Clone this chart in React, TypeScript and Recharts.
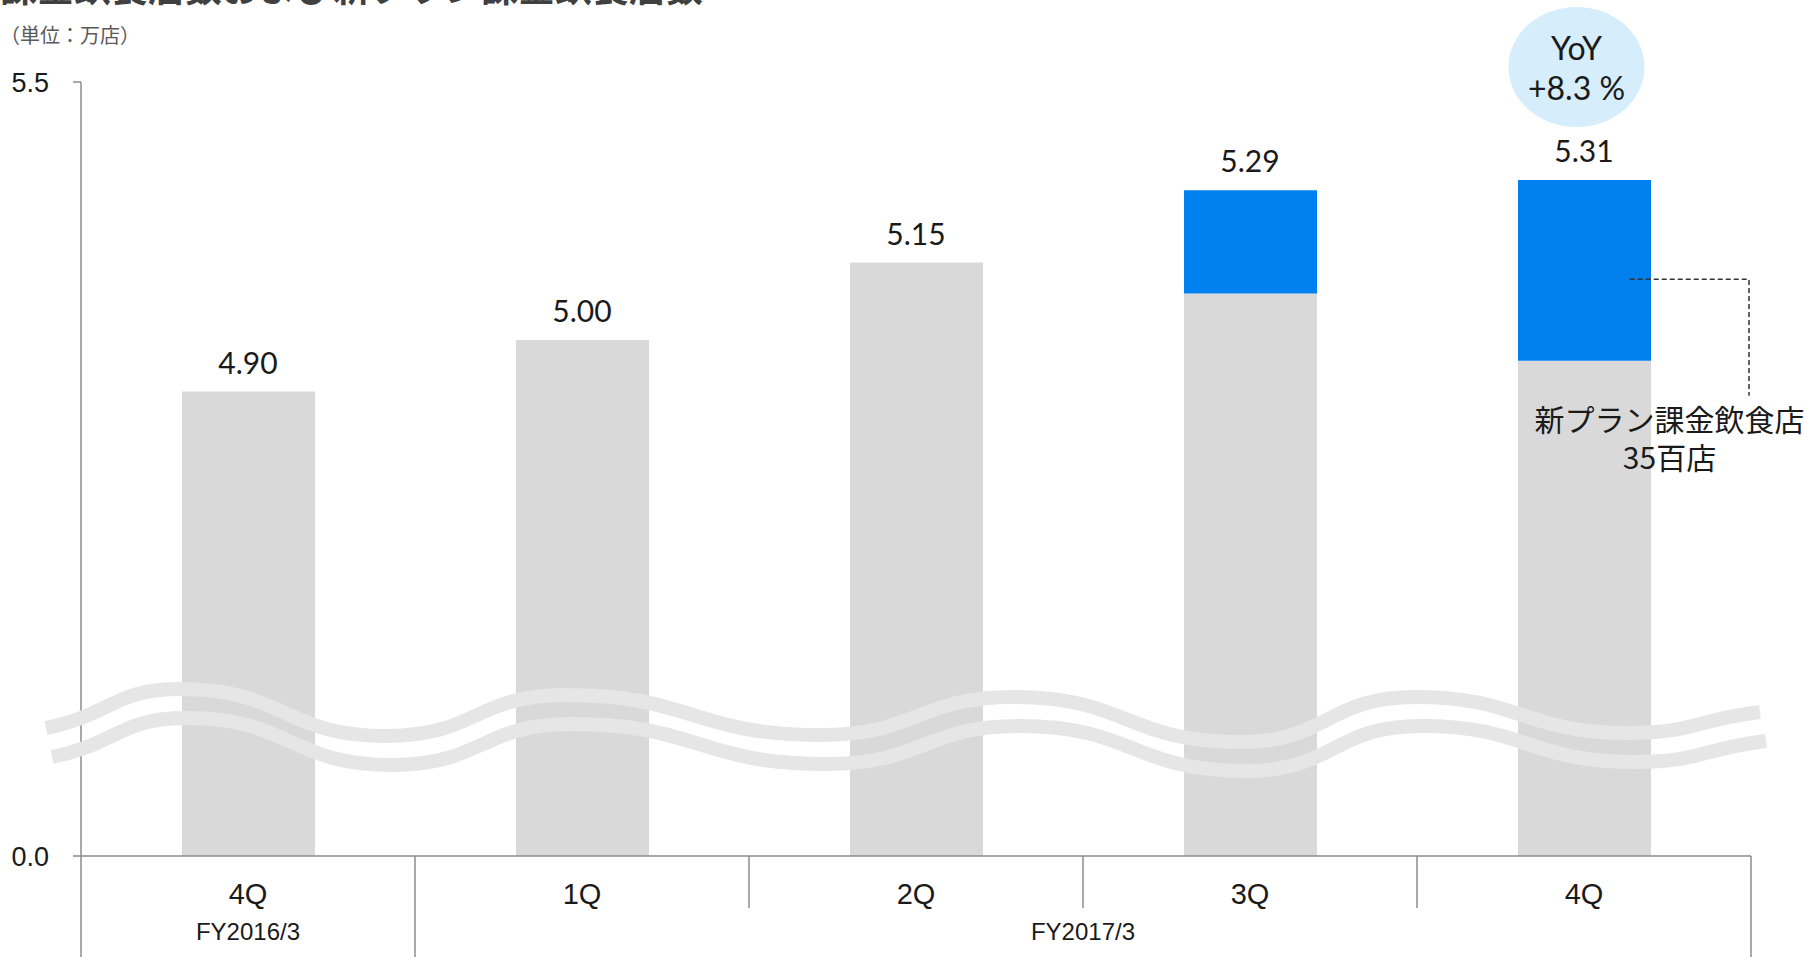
import React from 'react';
import {
  ComposedChart,
  Bar,
  Line,
  XAxis,
  YAxis,
  LabelList,
} from 'recharts';

// values in 万店
const quarters = ['4Q', '1Q', '2Q', '3Q', '4Q'];
const fiscalYears = ['FY2016/3', 'FY2017/3', 'FY2017/3', 'FY2017/3', 'FY2017/3'];
const existingStores = [4.9, 5.0, 5.15, 5.09, 4.96];
const newPlanStores = [0, 0, 0, 0.2, 0.35];
const totalStores = [4.9, 5.0, 5.15, 5.29, 5.31];
const yTicks = [4.0, 5.5];
const yBreakValue = 4.0; // shown as 0.0 below the wave break
const noteValue = newPlanStores[newPlanStores.length - 1];

const chartData = quarters.map((q, i) => ({
  quarter: q,
  fy: fiscalYears[i],
  existing: existingStores[i],
  newPlan: newPlanStores[i],
  newPlanRange: [existingStores[i], existingStores[i] + newPlanStores[i]],
  total: totalStores[i],
}));

const W = 1818;
const H = 957;
const MARGIN = { top: 82, right: 67, left: 0, bottom: 0 };
const Y_AXIS_W = 81;
const X_AXIS_H = 101;
const PLOT_W = W - MARGIN.right - Y_AXIS_W;
const CAT_W = PLOT_W / quarters.length;
const BAR_W = 133;

const GRID = '#8c8c8c';
const INK = '#1a1a1a';
const NARROW = '"Liberation Sans Narrow", "Liberation Sans", Arial, sans-serif';
const ROUND = 'Lato, "Noto Sans", sans-serif';
const CJK = '"Noto Sans CJK JP", "Noto Sans", sans-serif';

// axis-break wave (decoration)
const WAVE = [
  [46, 728], [181, 689], [387, 736], [565, 695], [821, 735],
  [1014, 697], [1240, 742], [1415, 697], [1629, 733], [1760, 712],
];

function wavePath(dx: number, dy: number) {
  const pts = WAVE.map(([x, y]) => [x + dx, y + dy]);
  let d = `M${pts[0][0]},${pts[0][1]}`;
  for (let i = 1; i < pts.length; i++) {
    const [x0, y0] = pts[i - 1];
    const [x1, y1] = pts[i];
    const h = (x1 - x0) / 2;
    const c1y = i === 1 ? y0 - 14 : y0;
    const c2y = i === pts.length - 1 ? y1 + 8 : y1;
    d += ` C${x0 + h},${c1y} ${x1 - h},${c2y} ${x1},${y1}`;
  }
  return d;
}

function QuarterTick(props: any) {
  const { x, y, index, payload } = props;
  const half = CAT_W / 2;
  const left = x - half;
  const groupStart = index === 0 || fiscalYears[index] !== fiscalYears[index - 1];
  let span = 1;
  while (index + span < fiscalYears.length && fiscalYears[index + span] === fiscalYears[index]) span++;
  return (
    <g>
      <line x1={left} x2={left} y1={y} y2={groupStart ? y + X_AXIS_H : y + 52} stroke={GRID} strokeWidth={1.5} />
      {index === quarters.length - 1 && (
        <line x1={x + half} x2={x + half} y1={y} y2={y + X_AXIS_H} stroke={GRID} strokeWidth={1.5} />
      )}
      <text x={x} y={y + 38} textAnchor="middle" dominantBaseline="central" fontSize={29} fill={INK} fontFamily={NARROW}>
        {payload.value}
      </text>
      {groupStart && (
        <text x={x + (span - 1) * half} y={y + 75} textAnchor="middle" dominantBaseline="central" fontSize={24} fill={INK} fontFamily={NARROW}>
          {fiscalYears[index]}
        </text>
      )}
    </g>
  );
}

function NewPlanNote(props: any) {
  if (Number(props.value) !== noteValue) return null;
  const vb = props.viewBox && props.viewBox.width != null ? props.viewBox : props;
  const x = Number(vb.x);
  const y = Number(vb.y);
  const width = Number(vb.width);
  const height = Number(vb.height);
  const cx = x + width / 2;
  const lineY = y + height * 0.55;
  const rightX = x + width + 98;
  return (
    <g>
      <ellipse cx={cx - 8} cy={y - 113} rx={68} ry={60} fill="#d6eefb" />
      <text x={cx - 8} y={y - 133} textAnchor="middle" dominantBaseline="central" fontSize={32} fill={INK} fontFamily={ROUND}>
        YoY
      </text>
      <text x={cx - 8} y={y - 93} textAnchor="middle" dominantBaseline="central" fontSize={32} fill={INK} fontFamily={ROUND}>
        +8.3 %
      </text>
      <path
        d={`M${x + width * 0.84},${lineY} H${rightX} V${y + height + 35}`}
        fill="none"
        stroke="#333"
        strokeWidth={1.5}
        strokeDasharray="5 3"
      />
      <text x={cx + 85} y={y + height + 57} textAnchor="middle" dominantBaseline="central" fontSize={30} fill={INK} fontFamily={CJK}>
        新プラン課金飲食店
      </text>
      <text x={cx + 85} y={y + height + 95} textAnchor="middle" dominantBaseline="central" fontSize={30} fill={INK} fontFamily={CJK}>
        35百店
      </text>
    </g>
  );
}

export default function App() {
  return (
    <div style={{ position: 'absolute', left: 0, top: 0, width: W, height: H, overflow: 'hidden', background: '#fff' }}>
      <ComposedChart width={W} height={H} data={chartData} margin={MARGIN} barSize={BAR_W} barGap={-BAR_W}>
        <XAxis
          dataKey="quarter"
          height={X_AXIS_H}
          interval={0}
          tickLine={false}
          tickSize={0}
          tickMargin={0}
          axisLine={{ stroke: GRID, strokeWidth: 1.5 }}
          tick={(p: any) => <QuarterTick {...p} />}
        />
        <YAxis
          width={Y_AXIS_W}
          domain={[yBreakValue, 5.5]}
          ticks={yTicks}
          tickSize={8}
          tickMargin={24}
          axisLine={{ stroke: GRID, strokeWidth: 1.5 }}
          tickLine={{ stroke: GRID, strokeWidth: 1.5 }}
          tick={{ fill: INK, fontSize: 27, fontFamily: NARROW }}
          tickFormatter={(v: number) => (v === yBreakValue ? '0.0' : v.toFixed(1))}
        />
        <Bar dataKey="existing" fill="#d9d9d9" isAnimationActive={false} />
        <Bar dataKey="newPlanRange" fill="#007fef" isAnimationActive={false}>
          <LabelList dataKey="newPlan" content={NewPlanNote} />
        </Bar>
        <Line dataKey="total" stroke="none" dot={false} activeDot={false} isAnimationActive={false}>
          <LabelList
            dataKey="total"
            position="top"
            offset={18}
            formatter={(v: any) => Number(v).toFixed(2)}
            style={{ fill: INK, fontSize: 30, fontFamily: ROUND }}
          />
        </Line>
      </ComposedChart>
      <svg width={W} height={H} style={{ position: 'absolute', left: 0, top: 0, pointerEvents: 'none' }}>
        <text x={0} y={2} fontSize={37} fontWeight="bold" fill="#404040" fontFamily={CJK}>
          課金飲食店数および新プラン課金飲食店数
        </text>
        <text x={0} y={34} dominantBaseline="central" fontSize={20} fill="#595959" fontFamily={CJK}>
          （単位：万店）
        </text>
        <path d={wavePath(0, 0)} fill="none" stroke="#e6e6e6" strokeWidth={14} />
        <path d={wavePath(6, 29)} fill="none" stroke="#e6e6e6" strokeWidth={14} />
      </svg>
    </div>
  );
}
